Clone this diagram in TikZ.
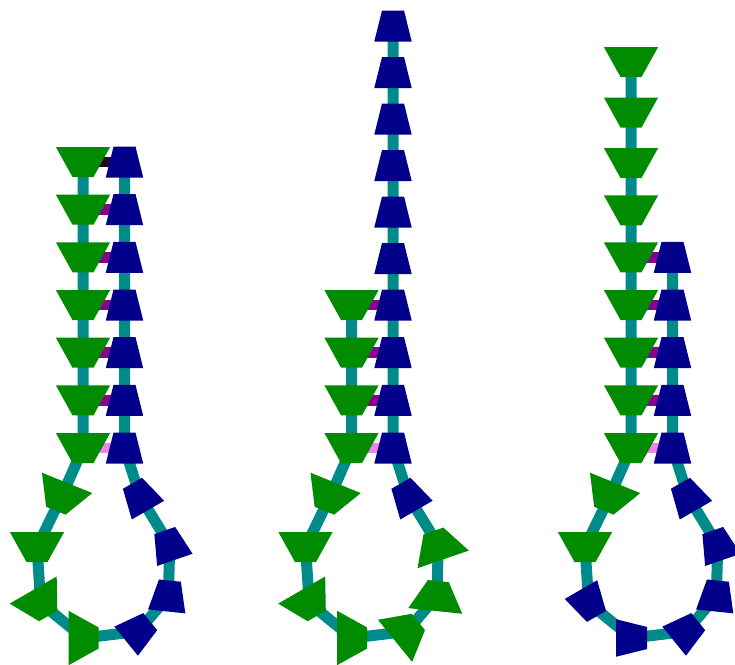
\documentclass[tikz,border=0pt]{standalone}
\usepackage{tikz}
\usetikzlibrary{shapes.geometric,backgrounds}
\usepackage{xcolor}
\definecolor{ntgreen}{RGB}{0,139,0}
\definecolor{ntblue}{RGB}{0,0,139}
\definecolor{bbteal}{RGB}{0,139,139}
\definecolor{bpdark}{RGB}{40,0,40}
\definecolor{bppurple}{RGB}{139,0,139}
\definecolor{bpviolet}{RGB}{238,130,238}

\begin{document}
\begin{tikzpicture}[
    x=1pt, y=-1pt,
    gbase/.style={trapezium, trapezium angle=61, fill=ntgreen,
                  inner xsep=10.5pt, inner ysep=15pt, outer sep=0pt},
    bbase/.style={trapezium, trapezium angle=76, fill=ntblue,
                  inner xsep=11pt, inner ysep=15.5pt, outer sep=0pt},
    backbone/.style={line width=11pt, color=bbteal, line join=round},
    pair/.style={line width=10.5pt}
  ]
    \useasboundingbox (0,0) rectangle (735,664);
    \clip (0,0) rectangle (735,664);

    % hairpin 1
    \node[gbase, rotate=180] (a1)  at (83,162)   {};
    \node[gbase, rotate=180] (a2)  at (83,209.7) {};
    \node[gbase, rotate=180] (a3)  at (83,257.3) {};
    \node[gbase, rotate=180] (a4)  at (83,305)   {};
    \node[gbase, rotate=180] (a5)  at (83,352.7) {};
    \node[gbase, rotate=180] (a6)  at (83,400.3) {};
    \node[gbase, rotate=180] (a7)  at (83,448)   {};
    \node[gbase, rotate=158] (a8)  at (61.5,496.8)  {};
    \node[gbase, rotate=180] (a9)  at (37,547)      {};
    \node[gbase, rotate=210] (a10) at (40.7,603)    {};
    \node[gbase, rotate=-90] (a11) at (83.7,638)    {};
    \node[bbase, rotate=-51] (a12) at (138.2,631.4) {};
    \node[bbase, rotate=-6]  (a13) at (168.3,596)   {};
    \node[bbase, rotate=19]  (a14) at (169.8,545.2) {};
    \node[bbase, rotate=30]  (a15) at (140.2,496.7) {};
    \node[bbase] (a16) at (124.5,448)   {};
    \node[bbase] (a17) at (124.5,400.3) {};
    \node[bbase] (a18) at (124.5,352.7) {};
    \node[bbase] (a19) at (124.5,305)   {};
    \node[bbase] (a20) at (124.5,257.3) {};
    \node[bbase] (a21) at (124.5,209.7) {};
    \node[bbase] (a22) at (124.5,162)   {};

    % hairpin 2
    \begin{scope}[xshift=268.5pt]
    \node[gbase, rotate=180] (b1)  at (83,305)   {};
    \node[gbase, rotate=180] (b2)  at (83,352.7) {};
    \node[gbase, rotate=180] (b3)  at (83,400.3) {};
    \node[gbase, rotate=180] (b4)  at (83,448)   {};
    \node[gbase, rotate=158] (b5)  at (61.5,496.8)  {};
    \node[gbase, rotate=180] (b6)  at (37,547)      {};
    \node[gbase, rotate=210] (b7)  at (40.7,603)    {};
    \node[gbase, rotate=-90] (b8)  at (83.7,638)    {};
    \node[gbase, rotate=-51] (b9)  at (138.2,631.4) {};
    \node[gbase, rotate=-6]  (b10) at (168.3,596)   {};
    \node[gbase, rotate=19]  (b11) at (169.8,545.2) {};
    \node[bbase, rotate=30]  (b12) at (140.2,496.7) {};
    \node[bbase] (b13) at (124.5,448)   {};
    \node[bbase] (b14) at (124.5,400.3) {};
    \node[bbase] (b15) at (124.5,352.7) {};
    \node[bbase] (b16) at (124.5,305)   {};
    \node[bbase] (b17) at (124.5,258.5) {};
    \node[bbase] (b18) at (124.5,212)   {};
    \node[bbase] (b19) at (124.5,165.5) {};
    \node[bbase] (b20) at (124.5,119)   {};
    \node[bbase] (b21) at (124.5,72.5)  {};
    \node[bbase] (b22) at (124.5,26)    {};
    \end{scope}

    % hairpin 3
    \begin{scope}[xshift=548pt]
    \node[gbase, rotate=180] (c1)  at (83,62)    {};
    \node[gbase, rotate=180] (c2)  at (83,112.5) {};
    \node[gbase, rotate=180] (c3)  at (83,163)   {};
    \node[gbase, rotate=180] (c4)  at (83,210.3) {};
    \node[gbase, rotate=180] (c5)  at (83,257.3) {};
    \node[gbase, rotate=180] (c6)  at (83,305)   {};
    \node[gbase, rotate=180] (c7)  at (83,352.7) {};
    \node[gbase, rotate=180] (c8)  at (83,400.3) {};
    \node[gbase, rotate=180] (c9)  at (83,448)   {};
    \node[gbase, rotate=158] (c10) at (61.5,496.8)  {};
    \node[gbase, rotate=180] (c11) at (37,547)      {};
    \node[bbase, rotate=210] (c12) at (40.7,603)    {};
    \node[bbase, rotate=-90] (c13) at (83.7,638)    {};
    \node[bbase, rotate=-51] (c14) at (138.2,631.4) {};
    \node[bbase, rotate=-6]  (c15) at (168.3,596)   {};
    \node[bbase, rotate=19]  (c16) at (169.8,545.2) {};
    \node[bbase, rotate=30]  (c17) at (140.2,496.7) {};
    \node[bbase] (c18) at (124.5,448)   {};
    \node[bbase] (c19) at (124.5,400.3) {};
    \node[bbase] (c20) at (124.5,352.7) {};
    \node[bbase] (c21) at (124.5,305)   {};
    \node[bbase] (c22) at (124.5,257.3) {};
    \end{scope}

    \begin{scope}[on background layer]
    \draw[backbone] (a1.center) -- (a2.center) -- (a3.center) -- (a4.center) -- (a5.center)
      -- (a6.center) -- (a7.center) -- (a8.center) -- (a9.center) -- (a10.center) -- (a11.center)
      -- (a12.center) -- (a13.center) -- (a14.center) -- (a15.center) -- (a16.center) -- (a17.center)
      -- (a18.center) -- (a19.center) -- (a20.center) -- (a21.center) -- (a22.center);
    \draw[backbone] (b1.center) -- (b2.center) -- (b3.center) -- (b4.center) -- (b5.center)
      -- (b6.center) -- (b7.center) -- (b8.center) -- (b9.center) -- (b10.center) -- (b11.center)
      -- (b12.center) -- (b13.center) -- (b14.center) -- (b15.center) -- (b16.center) -- (b17.center)
      -- (b18.center) -- (b19.center) -- (b20.center) -- (b21.center) -- (b22.center);
    \draw[backbone] (c1.center) -- (c2.center) -- (c3.center) -- (c4.center) -- (c5.center)
      -- (c6.center) -- (c7.center) -- (c8.center) -- (c9.center) -- (c10.center) -- (c11.center)
      -- (c12.center) -- (c13.center) -- (c14.center) -- (c15.center) -- (c16.center) -- (c17.center)
      -- (c18.center) -- (c19.center) -- (c20.center) -- (c21.center) -- (c22.center);

    \draw[pair, bpdark]   (a1.center) -- (a22.center);
    \draw[pair, bppurple] (a2.center) -- (a21.center);
    \draw[pair, bppurple] (a3.center) -- (a20.center);
    \draw[pair, bppurple] (a4.center) -- (a19.center);
    \draw[pair, bppurple] (a5.center) -- (a18.center);
    \draw[pair, bppurple] (a6.center) -- (a17.center);
    \draw[pair, bpviolet] (a7.center) -- (a16.center);

    \draw[pair, bppurple] (b1.center) -- (b16.center);
    \draw[pair, bppurple] (b2.center) -- (b15.center);
    \draw[pair, bppurple] (b3.center) -- (b14.center);
    \draw[pair, bpviolet] (b4.center) -- (b13.center);

    \draw[pair, bppurple] (c5.center) -- (c22.center);
    \draw[pair, bppurple] (c6.center) -- (c21.center);
    \draw[pair, bppurple] (c7.center) -- (c20.center);
    \draw[pair, bppurple] (c8.center) -- (c19.center);
    \draw[pair, bpviolet] (c9.center) -- (c18.center);
    \end{scope}
  \end{tikzpicture}
\end{document}
